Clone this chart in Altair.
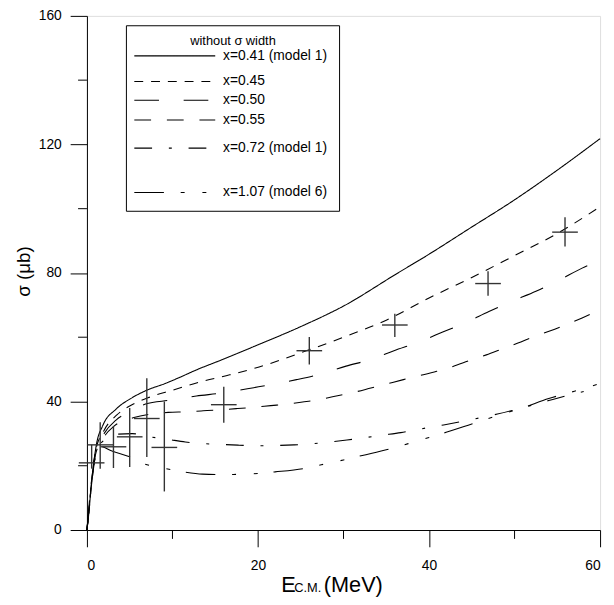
import altair as alt
import pandas as pd

# ---------------- data ----------------
series_names = ["x=0.41 (model 1)", "x=0.45", "x=0.50", "x=0.55",
                "x=0.72 (model 1)", "x=1.07 (model 6)"]

E_041 = [0, 0.25, 0.5, 0.75, 1.1, 1.85, 3.4, 5.3, 7.0, 9.15, 11.1, 12.6, 15.7, 19.7,
         25, 30, 36.3, 39.8, 45, 49.8, 55, 60]
S_041 = [0, 6, 14, 20, 26.5, 32.5, 37.6, 41.2, 43.5, 45.6, 47.8, 49.6, 52.9, 57.3,
         63.3, 69.7, 79.9, 85.5, 94.3, 102.4, 112, 121.8]

E_045 = [0, 0.25, 0.5, 0.75, 1, 2, 3.5, 5, 7.4, 10, 13.4, 16.7, 19.7, 25.9, 30, 35,
         40, 45, 50, 55, 60]
S_045 = [0, 6, 14, 19.8, 24.5, 31, 35.8, 38.6, 41.4, 43.5, 46.2, 48.3, 50.4, 56, 60,
         65.3, 72.2, 78.6, 85.4, 92.3, 100.6]

E_050 = [0, 0.5, 1, 2, 3.4, 5, 6.85, 9.7, 12.8, 15.7, 19.5, 24.5, 27.4, 30.3, 33.2,
         35.9, 38.8, 41.6, 44.3, 47, 49.8, 52.5, 55.3, 57.9, 60]
S_050 = [0, 13.5, 24, 30, 34.2, 36.8, 39.2, 40.4, 41.7, 42.6, 44.3, 46.8, 48.6, 51,
         53.1, 55.8, 58.5, 61.6, 64.6, 68, 71.3, 74.3, 77.9, 81.5, 83.9]

E_055 = [0, 0.5, 1, 2, 3.2, 5.5, 7.6, 9.5, 11.5, 13.6, 15.5, 17.6, 19.5, 21.5, 23.5,
         25.4, 27.4, 29.3, 31.3, 33.2, 35.1, 37, 39, 40.9, 42.8, 44.7, 46.7, 48.5,
         50.4, 52.2, 54.2, 56, 57.9, 60]
S_055 = [0, 13.3, 23.5, 29, 32.4, 35, 36.1, 36.6, 36.8, 37.1, 37.4, 37.8, 38.2, 38.7,
         39.2, 39.9, 40.7, 41.8, 42.9, 44.2, 45.5, 46.8, 48.1, 49.4, 50.9, 52.7, 54.5,
         56.3, 58.2, 60.1, 62, 63.9, 66, 68.5]

E_072 = [0, 0.5, 1, 2, 3.5, 5.3, 7.4, 9.5, 11.5, 13.6, 15.9, 17.8, 19.9, 22, 24.2,
         26.2, 28.4, 30.4, 32.4, 34.5, 36.7, 38.7, 41.7, 45, 48, 51, 54, 57, 60]
S_072 = [0, 13, 23, 28, 29.8, 30, 29, 28.2, 27.4, 26.9, 26.6, 26.4, 26.2, 26.3, 26.5,
         26.8, 27.4, 28.0, 28.7, 29.5, 30.3, 31.3, 32.7, 34.4, 36.1, 38.1, 40.3, 42.4,
         44.2]

E_107 = [0, 0.5, 1, 1.5, 3, 4.9, 6.7, 9, 11.5, 13.5, 15, 17, 19.4, 22, 25.5, 27.4, 30,
         32.2, 35.6, 37.6, 40, 42, 45, 48, 51, 54, 57, 60]
S_107 = [0, 14.5, 23, 26, 24.5, 22.9, 20.6, 19.2, 18, 17.4, 17.3, 17.3, 17.5, 18.1,
         19.2, 20.3, 21.8, 23.2, 25.4, 26.9, 28.8, 30.4, 33, 35.6, 38.1, 40.9, 43.2,
         45.6]

curve_E = [E_041, E_045, E_050, E_055, E_072, E_107]
curve_S = [S_041, S_045, S_050, S_055, S_072, S_107]

# measured points (crosses)
pt_E = [0.55, 1.55, 3.1, 5.0, 7.0, 9.05, 16.0, 26.0, 36.0, 46.9, 55.9]
pt_sigma = [20.9, 26.5, 25.9, 29.0, 34.7, 25.7, 39.0, 55.8, 63.8, 76.7, 92.7]
pt_lo = [19.1, 19.1, 19.3, 19.6, 22.7, 12.0, 33.4, 51.5, 60.1, 72.9, 88.2]
pt_hi = [26.5, 33.5, 32.4, 38.0, 47.2, 40.0, 44.6, 60.1, 67.3, 80.5, 97.3]
pt_dE = 1.5

x_major = [0, 20, 40, 60]
x_minor = [10, 30, 50]
y_major = [0, 40, 80, 120, 160]
y_minor = [20, 60, 100, 140]

legend_title = "without σ width"

# ---------------- styling ----------------
FONT = "Liberation Sans"
dash_patterns = [[1, 0], [9, 8], [25, 25], [17, 16], [18, 17, 3, 17], [30, 17, 4, 18, 4, 16]]
W, H = 520, 521

rows = []
for name, es, ss in zip(series_names, curve_E, curve_S):
    for i, (e, s) in enumerate(zip(es, ss)):
        rows.append({"series": name, "E": e, "sigma": s, "order": i})
curves = pd.DataFrame(rows)

pts = pd.DataFrame({"E": pt_E, "sigma": pt_sigma, "lo": pt_lo, "hi": pt_hi})
pts["Elo"] = pts["E"] - pt_dE
pts["Ehi"] = pts["E"] + pt_dE

xs = alt.Scale(domain=[0, 60], nice=False, zero=False)
ys = alt.Scale(domain=[0, 160], nice=False, zero=False)

x_axis = alt.Axis(values=x_major, tickSize=17, labelPadding=12, title=None, grid=False,
                  domainColor="black", tickColor="black", labelColor="black",
                  labelFont=FONT, labelFontSize=14, domainWidth=1, tickWidth=1)
y_axis = alt.Axis(values=y_major, tickSize=17, labelPadding=9, title=None, grid=False,
                  domainColor="black", tickColor="black", labelColor="black",
                  labelFont=FONT, labelFontSize=14, domainWidth=1, tickWidth=1)

lines = alt.Chart(curves).mark_line(color="black", strokeWidth=1.1,
                                    interpolate="monotone").encode(
    x=alt.X("E:Q", scale=xs, axis=x_axis),
    y=alt.Y("sigma:Q", scale=ys, axis=y_axis),
    detail="series:N",
    order="order:Q",
    strokeDash=alt.StrokeDash("series:N",
                              scale=alt.Scale(domain=series_names, range=dash_patterns),
                              legend=None),
)

CROSS = "#333333"
hbar = alt.Chart(pts).mark_rule(color=CROSS, strokeWidth=1.4).encode(
    x=alt.X("Elo:Q", scale=xs), x2="Ehi:Q", y=alt.Y("sigma:Q", scale=ys))
vbar = alt.Chart(pts).mark_rule(color=CROSS, strokeWidth=1.4).encode(
    x=alt.X("E:Q", scale=xs), y=alt.Y("lo:Q", scale=ys), y2="hi:Q")

# minor ticks
ymin_df = pd.DataFrame({"v": y_minor})
xmin_df = pd.DataFrame({"v": x_minor})
ymin = alt.Chart(ymin_df).mark_rule(color="black", strokeWidth=1).encode(
    y=alt.Y("v:Q", scale=ys), x=alt.value(-9), x2=alt.value(0))
xmin = alt.Chart(xmin_df).mark_rule(color="black", strokeWidth=1).encode(
    x=alt.X("v:Q", scale=xs), y=alt.value(H), y2=alt.value(H + 9))

# legend (manual)
base = alt.Chart(pd.DataFrame({"a": [0]}))
leg_layers = [
    base.mark_rect(fill="white", stroke="black", strokeWidth=1).encode(
        x=alt.value(40), x2=alt.value(256), y=alt.value(10), y2=alt.value(198)),
    base.mark_text(text=legend_title, font=FONT, fontSize=13, align="center",
                   baseline="middle", color="black").encode(
        x=alt.value(148), y=alt.value(25)),
]
row_y = [40.5, 66.5, 85.5, 105.5, 134, 179]
for name, dash, ry in zip(series_names, dash_patterns, row_y):
    leg_layers.append(base.mark_rule(color="black", strokeWidth=1.1, strokeDash=dash).encode(
        x=alt.value(48), x2=alt.value(130), y=alt.value(ry)))
    leg_layers.append(base.mark_text(text=name, font=FONT, fontSize=14, align="left",
                                     baseline="middle", color="black").encode(
        x=alt.value(138), y=alt.value(ry)))

# axis titles
titles = [
    base.mark_text(text="E", font=FONT, fontSize=22, align="left", baseline="alphabetic",
                   color="black").encode(x=alt.value(197), y=alt.value(584)),
    base.mark_text(text="C.M.", font=FONT, fontSize=13, align="left", baseline="alphabetic",
                   color="black").encode(x=alt.value(210), y=alt.value(584)),
    base.mark_text(text="(MeV)", font=FONT, fontSize=22, align="left", baseline="alphabetic",
                   color="black").encode(x=alt.value(240), y=alt.value(584)),
    base.mark_text(text="σ (μb)", font=FONT, fontSize=19, align="center", baseline="middle",
                   angle=270, color="black").encode(x=alt.value(-64), y=alt.value(259)),
]

chart = alt.layer(lines, hbar, vbar, ymin, xmin, *leg_layers, *titles).properties(
    width=W, height=H,
    autosize=alt.AutoSizeParams(type="none"),
    padding={"left": 80, "top": 4, "right": 6, "bottom": 72},
).configure_view(stroke=None).configure(background="white")

chart.save("out.html", embed_options={"renderer": "svg", "actions": False})
